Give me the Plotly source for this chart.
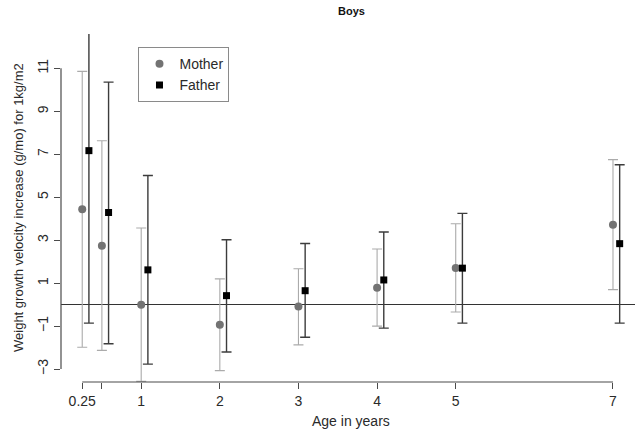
import plotly.graph_objects as go

# ---- data ----
ages = [0.25, 0.5, 1, 2, 3, 4, 5, 7]
father_dodge = 0.085  # horizontal offset of the Father series

mother_est = [4.44, 2.74, 0.0, -0.93, -0.09, 0.79, 1.71, 3.72]
mother_lo = [-1.98, -2.13, -3.57, -3.07, -1.87, -1.00, -0.34, 0.70]
mother_hi = [10.86, 7.63, 3.57, 1.20, 1.67, 2.59, 3.77, 6.75]

father_est = [7.17, 4.29, 1.62, 0.42, 0.65, 1.15, 1.70, 2.84]
father_lo = [-0.86, -1.82, -2.77, -2.20, -1.52, -1.09, -0.86, -0.86]
father_hi = [15.20, 10.36, 6.01, 3.02, 2.85, 3.38, 4.25, 6.51]

x_tickvals = [0.25, 0.5, 1, 2, 3, 4, 5, 7]
x_ticktext = ["0.25", "", "1", "2", "3", "4", "5", "7"]
y_tickvals = [-3, -1, 1, 3, 5, 7, 9, 11]

FONT = "Liberation Sans, Arial, Helvetica, sans-serif"
AX = "#4a4a4a"
TXT = "#2a2a2a"

W, H = 635, 435

father_x = [a + father_dodge for a in ages]

fig = go.Figure()
fig.add_trace(go.Scatter(
    x=ages, y=mother_est, mode="markers", name="Mother",
    marker=dict(symbol="circle", size=8, color="#737373"),
    error_y=dict(type="data", symmetric=False,
                 array=[h - e for h, e in zip(mother_hi, mother_est)],
                 arrayminus=[e - l for e, l in zip(mother_est, mother_lo)],
                 color="#ababab", thickness=1.1, width=5),
))
fig.add_trace(go.Scatter(
    x=father_x, y=father_est, mode="markers", name="Father",
    marker=dict(symbol="square", size=7, color="#000000"),
    error_y=dict(type="data", symmetric=False,
                 array=[h - e for h, e in zip(father_hi, father_est)],
                 arrayminus=[e - l for e, l in zip(father_est, father_lo)],
                 color="#3c3c3c", thickness=1.4, width=5),
))

# axis lines spanning only the tick range (R style)
fig.add_shape(type="line", xref="x", yref="paper",
              x0=min(x_tickvals), x1=max(x_tickvals), y0=0, y1=0,
              line=dict(color=AX, width=1.2))
fig.add_shape(type="line", xref="paper", yref="y",
              x0=0, x1=0, y0=min(y_tickvals), y1=max(y_tickvals),
              line=dict(color=AX, width=1.2))

fig.update_layout(
    width=W, height=H,
    margin=dict(l=61, r=0, t=34, b=53, autoexpand=False),
    paper_bgcolor="white", plot_bgcolor="white",
    font=dict(family=FONT, size=14, color=TXT),
    title=dict(text="<b>Boys</b>", font=dict(size=11, color="#111"),
               xref="paper", x=0.506, xanchor="center",
               yref="container", y=1 - 10.7 / H, yanchor="middle"),
    showlegend=True,
    legend=dict(x=0.135, y=0.962, xanchor="left", yanchor="top",
                bordercolor="#8a8a8a", borderwidth=1, bgcolor="white",
                font=dict(size=14, color=TXT)),
    xaxis=dict(range=[-0.02, 7.28], tickvals=x_tickvals, ticktext=x_ticktext,
               ticks="outside", ticklen=6, tickcolor=AX, tickwidth=1,
               showline=False, showgrid=False, zeroline=False, automargin=False,
               tickfont=dict(size=14, color=TXT)),
    yaxis=dict(range=[-3.6, 12.6], tickvals=y_tickvals, tickangle=-90,
               ticks="outside", ticklen=6, tickcolor=AX, tickwidth=1,
               showline=False, showgrid=False, automargin=False,
               zeroline=True, zerolinecolor="#333333", zerolinewidth=1,
               tickfont=dict(size=14, color=TXT)),
    annotations=[
        dict(text="Age in years", xref="paper", yref="paper",
             x=0.506, y=-(421 - 382) / 348, xanchor="center", yanchor="middle",
             showarrow=False, font=dict(size=14, color=TXT)),
        dict(text="Weight growth velocity increase (g/mo) for 1kg/m2",
             xref="paper", yref="paper", x=-(61 - 18) / 574, y=0.5,
             xanchor="center", yanchor="middle", textangle=-90,
             showarrow=False, font=dict(size=13, color=TXT)),
    ],
)

# remove the browser's default 8px page margin so the figure fills the window
fig.write_html("out.html",
               config={"displayModeBar": False},
               post_script="document.body.style.margin='0';")
